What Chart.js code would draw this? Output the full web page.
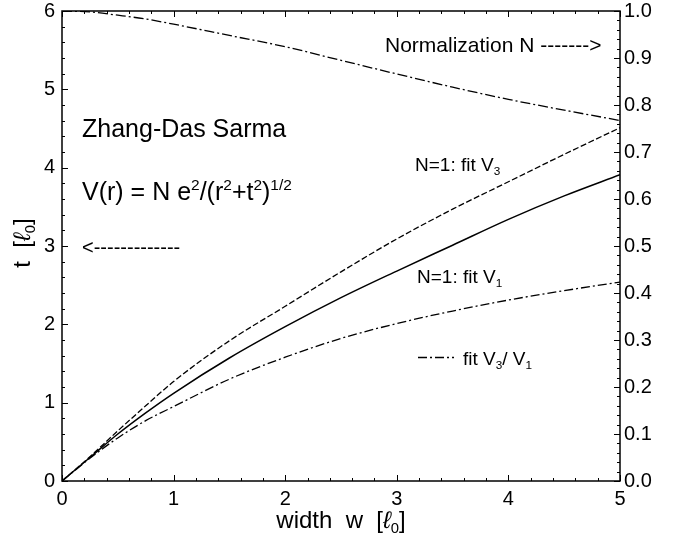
<!DOCTYPE html>
<html>
<head>
<meta charset="utf-8">
<script src="https://cdn.jsdelivr.net/npm/chart.js@4"></script>
<style>
  html, body { margin: 0; padding: 0; background: #fff; }
  canvas { display: block; }
</style>
</head>
<body>
<canvas id="chart" width="680" height="537"></canvas>
<script>
// values
const widths   = [0, 0.25, 0.5, 0.75, 1, 1.5, 2, 2.5, 3, 3.5, 4, 4.5, 5];
const normN    = [1.0, 0.998, 0.991, 0.983, 0.972, 0.948, 0.924, 0.895, 0.866, 0.838, 0.812, 0.789, 0.767];
const fitV3    = [0, 0.31, 0.64, 0.96, 1.27, 1.79, 2.23, 2.67, 3.09, 3.47, 3.82, 4.17, 4.51];
const fitV1    = [0, 0.30, 0.60, 0.87, 1.12, 1.57, 1.97, 2.34, 2.68, 3.01, 3.34, 3.64, 3.91];
const fitRatio = [0, 0.29, 0.55, 0.77, 0.95, 1.30, 1.58, 1.82, 2.01, 2.17, 2.31, 2.43, 2.54];

const xTicks = [0, 1, 2, 3, 4, 5];
const tTicks = [0, 1, 2, 3, 4, 5, 6];
const nTicks = [0, 0.1, 0.2, 0.3, 0.4, 0.5, 0.6, 0.7, 0.8, 0.9, 1.0];

const FONT = '"Liberation Sans", Arial, Helvetica, sans-serif';

const pts = ys => widths.map((w, i) => ({ x: w, y: ys[i] }));

// text with sub/superscripts: parts = [[text, 'n'|'sup'|'sub'|'it'], ...]
function fontFor(mode, size) {
  const fs = (mode === 'sup' || mode === 'sub') ? size * 0.62 : size;
  return (mode === 'it' ? 'italic ' : '') + fs + 'px ' + FONT;
}
function rich(ctx, parts, x, y, size) {
  let cx = x;
  parts.forEach(([s, mode]) => {
    let dy = 0;
    if (mode === 'sup') dy = -size * 0.42;
    if (mode === 'sub') dy = size * 0.22;
    ctx.font = fontFor(mode, size);
    ctx.fillText(s, cx, y + dy);
    cx += ctx.measureText(s).width;
  });
  return cx - x;
}
function richWidth(ctx, parts, size) {
  let w = 0;
  parts.forEach(([s, mode]) => {
    ctx.font = fontFor(mode, size);
    w += ctx.measureText(s).width;
  });
  return w;
}

const frame = {
  id: 'frame',
  afterDatasetsDraw(chart) {
    const { ctx, chartArea: a, scales } = chart;
    const x = scales.x, y = scales.y, y2 = scales.y2;
    ctx.save();
    ctx.strokeStyle = '#000';
    ctx.fillStyle = '#000';

    // inward ticks
    ctx.lineWidth = 1;
    ctx.beginPath();
    for (let i = 0; i <= 25; i++) {
      const px = Math.round(x.getPixelForValue(i * 0.2)) + 0.5;
      const len = i % 5 === 0 ? 6 : 3;
      ctx.moveTo(px, a.bottom); ctx.lineTo(px, a.bottom - len);
      ctx.moveTo(px, a.top); ctx.lineTo(px, a.top + len);
    }
    for (let i = 0; i <= 30; i++) {
      const py = Math.round(y.getPixelForValue(i * 0.2)) + 0.5;
      const len = i % 5 === 0 ? 6 : 3;
      ctx.moveTo(a.left, py); ctx.lineTo(a.left + len, py);
    }
    for (let i = 0; i <= 50; i++) {
      const py = Math.round(y2.getPixelForValue(i * 0.02)) + 0.5;
      const len = i % 5 === 0 ? 6 : 3;
      ctx.moveTo(a.right, py); ctx.lineTo(a.right - len, py);
    }
    ctx.stroke();

    // frame
    ctx.lineWidth = 1.5;
    ctx.strokeRect(a.left, a.top, a.right - a.left, a.bottom - a.top);

    // annotations
    ctx.textBaseline = 'alphabetic';
    ctx.textAlign = 'left';
    ctx.font = '25px ' + FONT;
    ctx.fillText('Zhang-Das Sarma', 82, 137);
    rich(ctx, [['V(r) = N e', 'n'], ['2', 'sup'], ['/(r', 'n'], ['2', 'sup'], ['+t', 'n'], ['2', 'sup'], [')', 'n'], ['1/2', 'sup']], 82, 200, 25);

    ctx.font = '20px ' + FONT;
    ctx.fillText('<-------------', 82, 254);

    ctx.font = '21px ' + FONT;
    ctx.fillText('Normalization N ------->', 385, 52);

    rich(ctx, [['N=1: fit V', 'n'], ['3', 'sub']], 415, 171, 19);
    rich(ctx, [['N=1: fit V', 'n'], ['1', 'sub']], 417, 283, 19);

    // key for the ratio curve
    ctx.lineWidth = 1.3;
    ctx.setLineDash([9, 3, 2, 3]);
    ctx.beginPath();
    ctx.moveTo(418, 357.5); ctx.lineTo(454, 357.5);
    ctx.stroke();
    ctx.setLineDash([]);
    rich(ctx, [['fit V', 'n'], ['3', 'sub'], ['/ V', 'n'], ['1', 'sub']], 463, 365, 19);

    // axis titles
    const xt = [['width  w  [', 'n'], ['\u2113', 'it'], ['0', 'sub'], [']', 'n']];
    const xw = richWidth(ctx, xt, 24);
    rich(ctx, xt, (a.left + a.right) / 2 - xw / 2, 528, 24);

    const yt = [['t  [', 'n'], ['\u2113', 'it'], ['0', 'sub'], [']', 'n']];
    const yw = richWidth(ctx, yt, 24);
    ctx.translate(30, 243);
    ctx.rotate(-Math.PI / 2);
    rich(ctx, yt, -yw / 2, 0, 24);
    ctx.restore();
  }
};

const fixBox = (w, h) => scale => {
  if (w !== null) scale.width = w;
  if (h !== null) scale.height = h;
  scale.paddingTop = 0; scale.paddingBottom = 0;
  scale.paddingLeft = 0; scale.paddingRight = 0;
};

new Chart(document.getElementById('chart'), {
  type: 'line',
  data: {
    datasets: [
      { label: 'Normalization N', data: pts(normN), yAxisID: 'y2',
        borderColor: '#000', borderWidth: 1.3, borderDash: [10, 3, 2, 3] },
      { label: 'N=1: fit V3', data: pts(fitV3), yAxisID: 'y',
        borderColor: '#000', borderWidth: 1.3, borderDash: [6, 2.5] },
      { label: 'N=1: fit V1', data: pts(fitV1), yAxisID: 'y',
        borderColor: '#000', borderWidth: 1.5 },
      { label: 'fit V3/V1', data: pts(fitRatio), yAxisID: 'y',
        borderColor: '#000', borderWidth: 1.3, borderDash: [9, 3, 2, 3] }
    ]
  },
  options: {
    responsive: false,
    animation: false,
    devicePixelRatio: 1,
    layout: { padding: { top: 11, left: 0, right: 0, bottom: 0 } },
    elements: { point: { radius: 0 }, line: { cubicInterpolationMode: 'monotone', fill: false } },
    plugins: { legend: { display: false }, tooltip: { enabled: false } },
    scales: {
      x: {
        type: 'linear', min: 0, max: 5,
        afterBuildTicks: s => { s.ticks = xTicks.map(v => ({ value: v })); },
        ticks: { color: '#000', font: { size: 20, family: FONT }, padding: 6, maxRotation: 0 },
        grid: { display: false, drawTicks: false },
        border: { display: false },
        afterFit: fixBox(null, 56)
      },
      y: {
        position: 'left', min: 0, max: 6,
        afterBuildTicks: s => { s.ticks = tTicks.map(v => ({ value: v })); },
        ticks: { color: '#000', font: { size: 20, family: FONT }, padding: 7 },
        grid: { display: false, drawTicks: false },
        border: { display: false },
        afterFit: fixBox(62, null)
      },
      y2: {
        position: 'right', min: 0, max: 1,
        afterBuildTicks: s => { s.ticks = nTicks.map(v => ({ value: v })); },
        ticks: { color: '#000', font: { size: 20, family: FONT }, padding: 4,
                 callback: v => v.toFixed(1) },
        grid: { display: false, drawTicks: false },
        border: { display: false },
        afterFit: fixBox(60, null)
      }
    }
  },
  plugins: [frame]
});
</script>
</body>
</html>
